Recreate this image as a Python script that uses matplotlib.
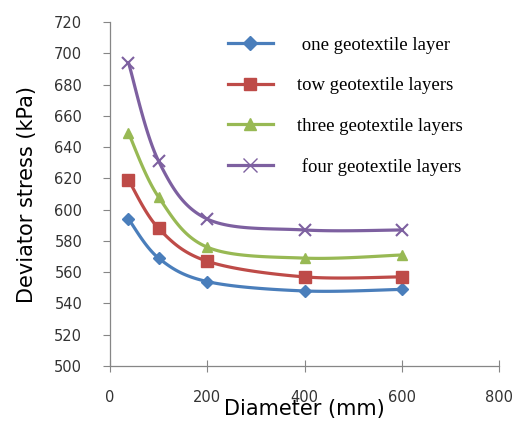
import numpy as np
import matplotlib.pyplot as plt

diameter = [38, 100, 200, 400, 600]
one_layer = [594, 569, 554, 548, 549]
two_layers = [619, 588, 567, 557, 557]
three_layers = [649, 608, 576, 569, 571]
four_layers = [694, 631, 594, 587, 587]
labels = [" one geotextile layer", "tow geotextile layers",
          "three geotextile layers", " four geotextile layers"]
colors = ["#4A7EBB", "#BE4B48", "#98B954", "#7D60A0"]
markers = ["D", "s", "^", "x"]
msizes = [6, 8, 7, 9]


def smooth(x, y, n=30):
    # excel-like smoothed line: Catmull-Rom converted to Bezier segments
    x = np.asarray(x, float)
    y = np.asarray(y, float)
    px = np.concatenate([[x[0]], x, [x[-1]]])
    py = np.concatenate([[y[0]], y, [y[-1]]])
    xs, ys = [], []
    t = np.linspace(0, 1, n)
    for i in range(1, len(px) - 2):
        p0 = np.array([px[i], py[i]])
        p3 = np.array([px[i + 1], py[i + 1]])
        p1 = p0 + (np.array([px[i + 1], py[i + 1]]) - np.array([px[i - 1], py[i - 1]])) / 6
        p2 = p3 - (np.array([px[i + 2], py[i + 2]]) - np.array([px[i], py[i]])) / 6
        b = ((1 - t) ** 3)[:, None] * p0 + (3 * (1 - t) ** 2 * t)[:, None] * p1 \
            + (3 * (1 - t) * t ** 2)[:, None] * p2 + (t ** 3)[:, None] * p3
        xs.extend(b[:, 0])
        ys.extend(b[:, 1])
    return xs, ys


fig = plt.figure(figsize=(5.15, 4.21), dpi=100)
ax = fig.add_axes([0.2136, 0.1306, 0.7555, 0.8171])

series = [one_layer, two_layers, three_layers, four_layers]
for vals, lab, c, m, ms in zip(series, labels, colors, markers, msizes):
    sx, sy = smooth(diameter, vals)
    ax.plot(sx, sy, color=c, lw=2.3, zorder=2)
    ax.plot(diameter, vals, ls="none", marker=m, color=c, ms=ms,
            mew=1.5 if m == "x" else 1, zorder=3)
    ax.plot([], [], color=c, lw=2.3, marker=m, ms=ms + 1, label=lab)

ax.set_xlim(0, 800)
ax.set_ylim(500, 720)
ax.set_xticks(np.arange(0, 801, 200))
ax.set_yticks(np.arange(500, 721, 20))
for s in ["top", "right"]:
    ax.spines[s].set_visible(False)
for s in ["left", "bottom"]:
    ax.spines[s].set_color("#868686")
    ax.spines[s].set_linewidth(0.9)
ax.tick_params(axis="y", direction="out", length=5, color="#868686",
               labelsize=10.5, labelcolor="#333333", pad=15)
ax.tick_params(axis="x", direction="inout", length=8, color="#868686",
               labelsize=10.5, labelcolor="#333333", pad=13)

ax.set_ylabel("Deviator stress (kPa)", fontsize=15, labelpad=12)
ax.set_xlabel("Diameter (mm)", fontsize=15, labelpad=-4)

ax.legend(loc="upper left", bbox_to_anchor=(0.303, 0.958), frameon=False,
          prop={"family": "Liberation Serif", "size": 13.5},
          borderpad=0, borderaxespad=0,
          labelspacing=1.25, handlelength=2.4, handletextpad=1.3)

fig.savefig("out.png", dpi=100)
